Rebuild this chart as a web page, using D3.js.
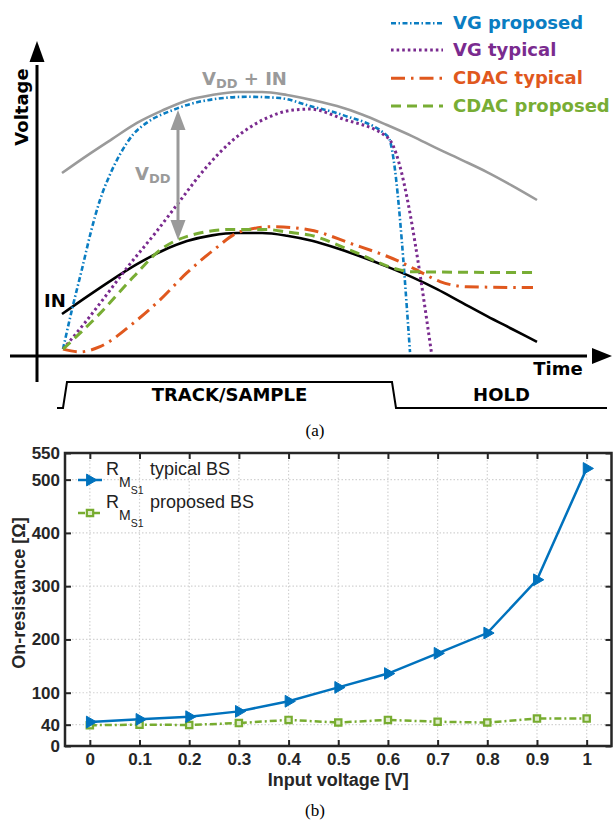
<!DOCTYPE html>
<html><head><meta charset="utf-8">
<script src="https://cdn.jsdelivr.net/npm/d3@7"></script>
<style>html,body{margin:0;padding:0;background:#fff;}svg{display:block;}</style>
</head><body>
<svg id="chart" width="614" height="821"></svg>
<script>
// ================= Panel (a): schematic waveforms (arbitrary time / voltage units) =================
const inT      = [5, 10, 15, 20, 25, 30, 35, 40, 45, 50, 55, 60, 65, 70, 75, 80, 85, 90, 95, 100];
const inV      = [14.0, 19.8, 25.4, 30.6, 35.0, 38.3, 40.2, 41.0, 41.0, 40.1, 38.4, 35.9, 33.0, 29.8, 26.3, 22.3, 17.8, 13.3, 9.0, 4.7];
const vddInV   = [61.0, 66.8, 72.3, 77.7, 81.8, 85.2, 87.0, 88.0, 88.0, 87.0, 85.3, 83.3, 80.5, 77.0, 73.3, 69.2, 65.3, 61.3, 56.8, 52.0];

const vgProposedT = [5.2, 7, 9, 10.8, 12.6, 14.6, 16.6, 19.2, 21.9, 27.2, 32.6, 41.9, 48.6, 54.6, 61.2, 70.2, 74.6];
const vgProposedV = [2.3, 15.5, 29, 41.5, 52, 60.5, 67.2, 73.8, 77.7, 82.0, 84.8, 86.4, 86.0, 83.3, 80.3, 73.1, 1.3];

const vgTypicalT = [5.2, 9.3, 13.5, 17.9, 23.9, 27.9, 33.9, 39.2, 45.9, 51.2, 54.6, 61.2, 70.2, 78.9];
const vgTypicalV = [2.3, 10.5, 19.5, 29.2, 41.5, 50.2, 63, 72, 79.3, 82, 82.3, 79, 72.7, 1];

const cdacTypicalT = [5.2, 8.6, 12.6, 19.3, 24.6, 29.9, 35.3, 40.6, 47.3, 54.6, 62.6, 72.6, 75.9, 80.6, 85.9, 99.2];
const cdacTypicalV = [2.3, 1.4, 3.1, 11, 18.7, 27.6, 35.3, 41.4, 43.1, 42, 37.6, 31.4, 28.7, 24.8, 23.1, 22.8];

const cdacProposedT = [5.2, 12.6, 19.3, 24.6, 29.9, 39.2, 45.9, 50, 54.6, 62.6, 72.6, 74.6, 99.2];
const cdacProposedV = [2.3, 14.2, 26.4, 35.3, 39.8, 42.2, 42.2, 41.3, 40.3, 35.3, 28.7, 28.1, 27.8];

// VDD arrow (time, from/to voltage)
const vddArrowT = 28.2;
const vddArrowV = [82, 38.7];

// Track/hold control signal
const phaseT = [4, 5.2, 6, 71, 71.8, 114];
const phaseL = [0, 0, 1, 1, 0, 0];
const phaseNames = ["TRACK/SAMPLE", "HOLD"];
const phaseSpans = [[6, 71], [71.8, 114]];

const legendA = [
  {name: "VG proposed",   color: "#0a7dc2", dash: "5,2.5,1.5,2.5", w: 2.6},
  {name: "VG typical",    color: "#7a2b8f", dash: "2.6,3",        w: 3},
  {name: "CDAC typical",  color: "#e0581e", dash: "14,6,2.5,6",   w: 3},
  {name: "CDAC proposed", color: "#78ad34", dash: "10,6",         w: 3}
];

// ================= Panel (b): on-resistance =================
const inputVoltage = [0, 0.1, 0.2, 0.3, 0.4, 0.5, 0.6, 0.7, 0.8, 0.9, 1];
const rTypical  = [45, 50, 55, 65, 84, 110, 136, 174, 212, 312, 521];
const rProposed = [39, 40, 39.5, 43, 49, 44, 49, 45.5, 44, 51.5, 51.5];
const yTicksB = [0, 40, 100, 200, 300, 400, 500, 550];
const xTicksB = [0, 0.1, 0.2, 0.3, 0.4, 0.5, 0.6, 0.7, 0.8, 0.9, 1];
const xTickLabelsB = ["0", "0.1", "0.2", "0.3", "0.4", "0.5", "0.6", "0.7", "0.8", "0.9", "1"];

const svg = d3.select("#chart");
const FA = "'DejaVu Sans', sans-serif";
const FB = "'Liberation Sans', Arial, Helvetica, sans-serif";

// ---------- Panel (a) ----------
const xA = d3.scaleLinear().domain([0, 115]).range([37, 612]);
const yA = d3.scaleLinear().domain([0, 105]).range([356, 41]);
const ySig = d3.scaleLinear().domain([0, 1]).range([408, 382]);
const gA = svg.append("g");

const lineA = d3.line().x(d => xA(d[0])).y(d => yA(d[1])).curve(d3.curveMonotoneX);
const zip = (a, b) => a.map((v, i) => [v, b[i]]);

// axes
gA.append("line").attr("x1", xA(0)).attr("x2", xA(0)).attr("y1", 382).attr("y2", yA(97))
  .attr("stroke", "#000").attr("stroke-width", 3);
gA.append("path").attr("d", `M${xA(0)},${yA(105)} L${xA(0)-7.5},${yA(98)} L${xA(0)+7.5},${yA(98)} Z`).attr("fill", "#000");
gA.append("line").attr("x1", 10).attr("x2", xA(110)).attr("y1", yA(0)).attr("y2", yA(0))
  .attr("stroke", "#000").attr("stroke-width", 3);
gA.append("path").attr("d", `M${xA(115)},${yA(0)} L${xA(111)},${yA(0)-8} L${xA(111)},${yA(0)+8} Z`).attr("fill", "#000");

gA.append("text").attr("transform", `translate(28,107) rotate(-90)`).attr("text-anchor", "middle")
  .attr("font-family", FA).attr("font-weight", "bold").attr("font-size", 18).text("Voltage");
gA.append("text").attr("x", 558).attr("y", 375).attr("text-anchor", "middle")
  .attr("font-family", FA).attr("font-weight", "bold").attr("font-size", 18).text("Time");

// curves
gA.append("path").attr("d", lineA(zip(inT, vddInV))).attr("fill", "none").attr("stroke", "#9a9a9a").attr("stroke-width", 2.6);
gA.append("path").attr("d", lineA(zip(inT, inV))).attr("fill", "none").attr("stroke", "#000").attr("stroke-width", 2.6);
const seriesA = [
  [vgProposedT, vgProposedV, legendA[0]],
  [vgTypicalT, vgTypicalV, legendA[1]],
  [cdacTypicalT, cdacTypicalV, legendA[2]],
  [cdacProposedT, cdacProposedV, legendA[3]]
];
seriesA.forEach(([t, v, s]) => {
  gA.append("path").attr("d", lineA(zip(t, v))).attr("fill", "none")
    .attr("stroke", s.color).attr("stroke-width", s.w).attr("stroke-dasharray", s.dash);
});

// VDD arrow
const ax = xA(vddArrowT), ay1 = yA(vddArrowV[0]), ay2 = yA(vddArrowV[1]);
gA.append("line").attr("x1", ax).attr("x2", ax).attr("y1", ay1 + 15).attr("y2", ay2 - 15)
  .attr("stroke", "#9a9a9a").attr("stroke-width", 3);
gA.append("path").attr("d", `M${ax},${ay1} L${ax-7.5},${ay1+20} L${ax+7.5},${ay1+20} Z`).attr("fill", "#9a9a9a");
gA.append("path").attr("d", `M${ax},${ay2} L${ax-7.5},${ay2-20} L${ax+7.5},${ay2-20} Z`).attr("fill", "#9a9a9a");

// labels
const tVdd = gA.append("text").attr("x", 135).attr("y", 180).attr("fill", "#9a9a9a")
  .attr("font-family", FA).attr("font-weight", "bold").attr("font-size", 18);
tVdd.append("tspan").text("V");
tVdd.append("tspan").attr("font-size", 13).attr("dy", 3).text("DD");

const tVddIn = gA.append("text").attr("x", 202).attr("y", 85).attr("fill", "#9a9a9a")
  .attr("font-family", FA).attr("font-weight", "bold").attr("font-size", 18);
tVddIn.append("tspan").text("V");
tVddIn.append("tspan").attr("font-size", 13).attr("dy", 3).text("DD");
tVddIn.append("tspan").attr("dy", -3).text(" + IN");

gA.append("text").attr("x", 44).attr("y", 307).attr("font-family", FA).attr("font-weight", "bold")
  .attr("font-size", 18).text("IN");

// legend (a)
legendA.forEach((s, i) => {
  const ly = [23.3, 50, 78.3, 106][i];
  gA.append("line").attr("x1", 391).attr("x2", 443).attr("y1", ly).attr("y2", ly)
    .attr("stroke", s.color).attr("stroke-width", s.w).attr("stroke-dasharray", s.dash);
  gA.append("text").attr("x", 453).attr("y", ly + 5.5).attr("fill", s.color)
    .attr("font-family", FA).attr("font-weight", "bold").attr("font-size", 18).text(s.name);
});

// phase signal
const sigLine = d3.line().x(d => xA(d[0])).y(d => ySig(d[1]));
gA.append("path").attr("d", sigLine(zip(phaseT, phaseL))).attr("fill", "none").attr("stroke", "#000").attr("stroke-width", 2);
phaseNames.forEach((n, i) => {
  gA.append("text").attr("x", (xA(phaseSpans[i][0]) + xA(phaseSpans[i][1])) / 2).attr("y", 401)
    .attr("text-anchor", "middle").attr("font-family", FA).attr("font-weight", "bold").attr("font-size", 18).text(n);
});

svg.append("text").attr("x", 315).attr("y", 436).attr("text-anchor", "middle")
  .attr("font-family", "'Liberation Serif', 'Times New Roman', serif").attr("font-size", 17).text("(a)");

// ---------- Panel (b) ----------
const L = 65, R = 611.5, T = 453, B = 746;
const xB = d3.scaleLinear().domain([-0.05, 1.05]).range([L, R]);
const yB = d3.scaleLinear().domain([0, 550]).range([B, T]);
const gB = svg.append("g");
const axisColor = "#262626";

// grid
gB.selectAll(".vg").data(xTicksB).enter().append("line")
  .attr("x1", d => xB(d)).attr("x2", d => xB(d)).attr("y1", T).attr("y2", B)
  .attr("stroke", "#d2d2d2").attr("stroke-width", 1.2).attr("stroke-dasharray", "1.5,2");
gB.selectAll(".hg").data(yTicksB.filter(d => d > 0 && d < 550)).enter().append("line")
  .attr("x1", L).attr("x2", R).attr("y1", d => yB(d)).attr("y2", d => yB(d))
  .attr("stroke", "#d2d2d2").attr("stroke-width", 1.2).attr("stroke-dasharray", "1.5,2");

// axes via d3 axis generators (ticks inward)
const axB = gB.append("g").attr("transform", `translate(0,${B})`)
  .call(d3.axisBottom(xB).tickValues(xTicksB).tickFormat((d, i) => xTickLabelsB[i]).tickSizeInner(-6).tickSizeOuter(0).tickPadding(7));
const axT = gB.append("g").attr("transform", `translate(0,${T})`)
  .call(d3.axisTop(xB).tickValues(xTicksB).tickFormat("").tickSizeInner(-6).tickSizeOuter(0));
const ayL = gB.append("g").attr("transform", `translate(${L},0)`)
  .call(d3.axisLeft(yB).tickValues(yTicksB).tickSizeInner(-6).tickSizeOuter(0).tickPadding(5));
const ayR = gB.append("g").attr("transform", `translate(${R},0)`)
  .call(d3.axisRight(yB).tickValues(yTicksB).tickFormat("").tickSizeInner(-6).tickSizeOuter(0));
[axB, axT, ayL, ayR].forEach(a => {
  a.select(".domain").remove();
  a.selectAll(".tick line").attr("stroke", axisColor).attr("stroke-width", 2);
  a.selectAll("text").attr("font-family", FB).attr("font-weight", "bold").attr("font-size", 17).attr("fill", axisColor);
});
gB.append("rect").attr("x", L).attr("y", T).attr("width", R - L).attr("height", B - T)
  .attr("fill", "none").attr("stroke", axisColor).attr("stroke-width", 2.5);

// series
const blue = "#0072BD", green = "#77AC30";
const lineB = d3.line().x(d => xB(d[0])).y(d => yB(d[1]));
gB.append("path").attr("d", lineB(zip(inputVoltage, rProposed))).attr("fill", "none")
  .attr("stroke", green).attr("stroke-width", 2.5).attr("stroke-dasharray", "7,3,2,3");
gB.append("path").attr("d", lineB(zip(inputVoltage, rTypical))).attr("fill", "none")
  .attr("stroke", blue).attr("stroke-width", 2.5);
const tri = d3.symbol(d3.symbolTriangle, 60)();
const sq = d3.symbol(d3.symbolSquare, 40)();
gB.selectAll(".sq").data(zip(inputVoltage, rProposed)).enter().append("path")
  .attr("d", sq).attr("transform", d => `translate(${xB(d[0])},${yB(d[1])})`)
  .attr("fill", "#dfeccb").attr("stroke", green).attr("stroke-width", 2.2);
gB.selectAll(".tr").data(zip(inputVoltage, rTypical)).enter().append("path")
  .attr("d", tri).attr("transform", d => `translate(${xB(d[0])},${yB(d[1])}) rotate(90)`)
  .attr("fill", blue).attr("stroke", blue).attr("stroke-width", 1);

// legend (b)
const legB = [
  {y: 480, text: "typical BS", c: blue, sym: tri, rot: 90, dash: null},
  {y: 513, text: "proposed BS", c: green, sym: sq, rot: 0, dash: "7,3,2,3"}
];
legB.forEach((d, i) => {
  gB.append("line").attr("x1", 78).attr("x2", 102).attr("y1", d.y).attr("y2", d.y)
    .attr("stroke", d.c).attr("stroke-width", 2.5).attr("stroke-dasharray", d.dash);
  gB.append("path").attr("d", d.sym).attr("transform", `translate(90,${d.y}) rotate(${d.rot})`)
    .attr("fill", i === 0 ? blue : "#dfeccb").attr("stroke", d.c).attr("stroke-width", i === 0 ? 1 : 2.2);
  const by = d.y - 5;
  const t = gB.append("text").attr("x", 106).attr("y", by).attr("font-family", FB).attr("font-size", 18).attr("fill", "#222");
  t.append("tspan").text("R");
  t.append("tspan").attr("font-size", 14).attr("dy", 12).text("M");
  t.append("tspan").attr("font-size", 10.5).attr("dy", 7).text("S1");
  gB.append("text").attr("x", 150).attr("y", by).attr("font-family", FB).attr("font-size", 18).attr("fill", "#222").text(d.text);
});

// axis titles
gB.append("text").attr("transform", `translate(25,593) rotate(-90)`).attr("text-anchor", "middle")
  .attr("font-family", FB).attr("font-weight", "bold").attr("font-size", 18).attr("fill", axisColor).text("On-resistance [Ω]");
gB.append("text").attr("x", (L + R) / 2).attr("y", 786).attr("text-anchor", "middle")
  .attr("font-family", FB).attr("font-weight", "bold").attr("font-size", 18).attr("fill", axisColor).text("Input voltage [V]");

svg.append("text").attr("x", 315).attr("y", 816).attr("text-anchor", "middle")
  .attr("font-family", "'Liberation Serif', 'Times New Roman', serif").attr("font-size", 17).text("(b)");
</script>
</body></html>
